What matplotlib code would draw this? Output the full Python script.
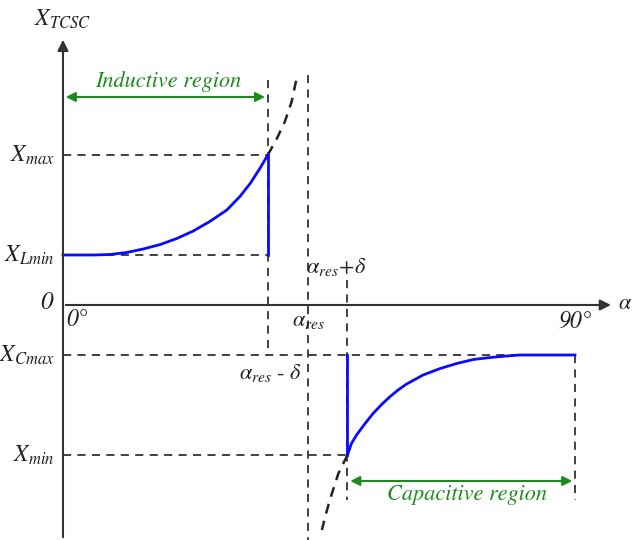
import matplotlib
matplotlib.use("Agg")
import matplotlib.pyplot as plt

plt.rcParams['mathtext.fontset'] = 'stix'
plt.rcParams['font.family'] = ['STIXGeneral', 'DejaVu Sans']

# characteristic levels of the TCSC reactance
X_LMIN = 1.0
X_MAX = 3.0
X_CMAX = -1.0
X_MIN = -3.0

# firing angles (degrees)
A_LO = 36.0     # alpha_res - delta
A_RES = 43.0    # alpha_res
A_HI = 50.0     # alpha_res + delta
A_END = 90.0

# inductive branch (blue)
alpha_ind = [0, 5.3, 8.3, 11.2, 14.1, 17.1, 20.0, 22.9, 25.8, 28.8, 31.1, 32.9, 34.6, 36.0]
x_ind = [1.0, 1.0, 1.01, 1.05, 1.12, 1.21, 1.33, 1.48, 1.67, 1.9, 2.17, 2.43, 2.73, 3.0]

# capacitive branch (blue)
alpha_cap = [50.0, 50.7, 51.6, 53.1, 54.5, 56.0, 57.5, 58.9, 60.4, 63.3, 66.3, 69.2,
             72.1, 75.1, 78.0, 80.3, 90.0]
x_cap = [-3.0, -2.77, -2.6, -2.37, -2.17, -1.99, -1.83, -1.7, -1.58, -1.4, -1.27, -1.17,
         -1.09, -1.05, -1.02, -1.0, -1.0]

# continuation of the curve towards resonance (dashed)
alpha_up = [36.0, 37.6, 39.0, 40.2, 41.0]
x_up = [3.0, 3.33, 3.67, 4.07, 4.5]
alpha_lo = [50.0, 48.4, 46.9, 46.1, 45.5]
x_lo = [-3.0, -3.37, -3.9, -4.23, -4.5]

fig = plt.figure(figsize=(6.35, 5.4), dpi=100)
ax = fig.add_axes([0, 0, 1, 1])
ax.set_xlim(-11.07, 100.54)
ax.set_ylim(-4.7, 6.1)
ax.axis("off")

axis_col = "#333333"
dash = dict(color="#333333", lw=1.3, linestyle=(0, (4.5, 3.5)))
txt = "#222222"
green = "#1e8a1e"

# axes with arrow heads
ax.annotate("", xy=(0, 5.36), xytext=(0, -4.7),
            arrowprops=dict(arrowstyle="-|>", color=axis_col, lw=1.5, mutation_scale=16))
ax.annotate("", xy=(96.8, 0), xytext=(0, 0),
            arrowprops=dict(arrowstyle="-|>", color=axis_col, lw=1.5, mutation_scale=16))

# horizontal guide lines
ax.plot([0, A_LO], [X_MAX, X_MAX], **dash)
ax.plot([0, A_LO], [X_LMIN, X_LMIN], **dash)
ax.plot([0, 81.5], [X_CMAX, X_CMAX], **dash)
ax.plot([0, A_HI], [X_MIN, X_MIN], **dash)

# vertical guide lines
ax.plot([A_LO, A_LO], [4.5, X_CMAX], **dash)
ax.plot([A_RES, A_RES], [4.6, -4.7], **dash)
ax.plot([A_HI, A_HI], [0.5, -3.9], **dash)
ax.plot([A_END, A_END], [X_CMAX, -3.9], **dash)

# dashed continuation near resonance
ax.plot(alpha_up, x_up, color="#222222", lw=1.8, linestyle=(0, (4, 3)))
ax.plot(alpha_lo, x_lo, color="#222222", lw=1.8, linestyle=(0, (4, 3)))

# reactance curves
blue = "#0a0aff"
ax.plot(alpha_ind, x_ind, color=blue, lw=2)
ax.plot([A_LO, A_LO], [X_MAX, X_LMIN], color=blue, lw=2)
ax.plot([A_HI, A_HI], [X_CMAX, X_MIN], color=blue, lw=2)
ax.plot(alpha_cap, x_cap, color=blue, lw=2)

# region arrows
ax.annotate("", xy=(0, 4.16), xytext=(A_LO, 4.16),
            arrowprops=dict(arrowstyle="<|-|>", color=green, lw=1.5, mutation_scale=14))
ax.annotate("", xy=(A_HI, -3.52), xytext=(A_END, -3.52),
            arrowprops=dict(arrowstyle="<|-|>", color=green, lw=1.5, mutation_scale=14))
ax.text(18.5, 4.46, "Inductive region", color=green, fontsize=16, style="italic",
        ha="center", va="center")
ax.text(71.0, -3.8, "Capacitive region", color=green, fontsize=16, style="italic",
        ha="center", va="center")

# axis labels
ax.text(0, 5.72, r"$X_{TCSC}$", color=txt, fontsize=17, ha="center", va="center")
ax.text(97.5, 0.02, r"$\alpha$", color=txt, fontsize=16, ha="left", va="center")
ax.text(-1.8, 0.05, "0", color=txt, fontsize=18, style="italic", ha="right", va="center")
ax.text(0.6, -0.3, "0°", color=txt, fontsize=17, style="italic", ha="left", va="center")
ax.text(A_END, -0.33, "90°", color=txt, fontsize=17, style="italic", ha="center", va="center")

# level labels
ax.text(-1.5, X_MAX, r"$X_{max}$", color=txt, fontsize=17, ha="right", va="center")
ax.text(-1.5, X_LMIN, r"$X_{Lmin}$", color=txt, fontsize=17, ha="right", va="center")
ax.text(-1.5, X_CMAX, r"$X_{Cmax}$", color=txt, fontsize=17, ha="right", va="center")
ax.text(-1.5, X_MIN, r"$X_{min}$", color=txt, fontsize=17, ha="right", va="center")

# angle labels
ax.text(A_RES + 0.2, -0.33, r"$\alpha_{res}$", color=txt, fontsize=16, ha="center", va="center")
ax.text(A_LO + 0.5, -1.35, r"$\alpha_{res}$ - $\delta$", color=txt, fontsize=16,
        ha="center", va="center")
ax.text(A_HI - 2.0, 0.76, r"$\alpha_{res}\!+\!\delta$", color=txt, fontsize=16,
        ha="center", va="center")

fig.savefig("out.png", dpi=100)
